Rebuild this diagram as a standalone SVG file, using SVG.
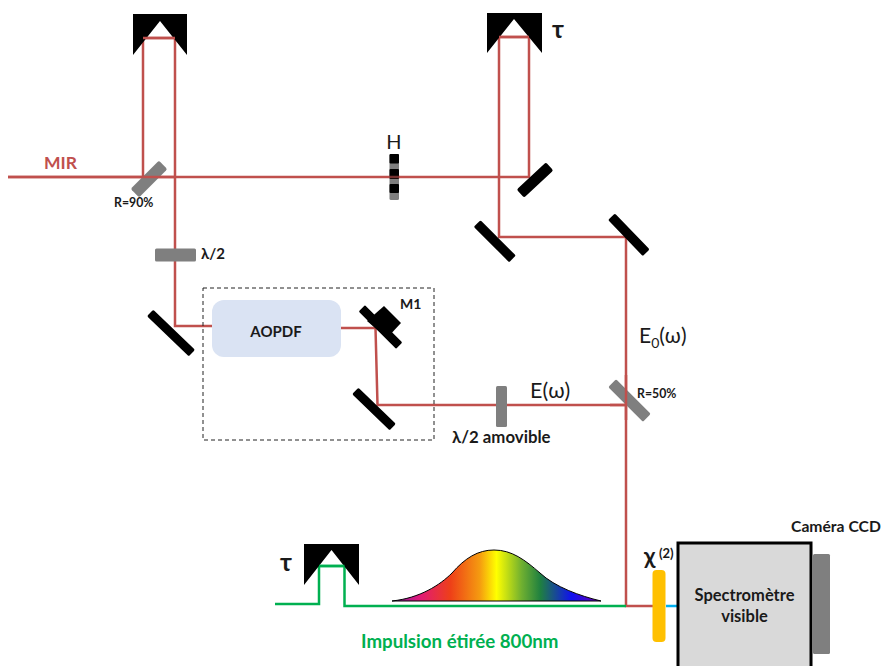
<svg xmlns="http://www.w3.org/2000/svg" width="883" height="666" viewBox="0 0 883 666">
<style>
text{font-family:"Lato","Open Sans","Liberation Sans",sans-serif;fill:#1a1a1a}
.b{font-weight:700}
.red{fill:none;stroke:#c0504d;stroke-width:2.5}
.grn{fill:none;stroke:#00b050;stroke-width:2.5}
.m{fill:#000}
.g{fill:#7f7f7f}
</style>
<defs>
<linearGradient id="sp" gradientUnits="userSpaceOnUse" x1="392" y1="0" x2="601" y2="0">
<stop offset="0" stop-color="#7a1fa0"/>
<stop offset="0.13" stop-color="#e0187a"/>
<stop offset="0.28" stop-color="#ee4018"/>
<stop offset="0.42" stop-color="#f59b10"/>
<stop offset="0.5" stop-color="#ffff00"/>
<stop offset="0.62" stop-color="#70b030"/>
<stop offset="0.71" stop-color="#1f8040"/>
<stop offset="0.86" stop-color="#1010f0"/>
<stop offset="1" stop-color="#7000b0"/>
</linearGradient>
</defs>
<g id="connectors">
<path class="red" d="M8 177H529V37H499V237"/>
<path class="red" d="M143 177V38H175V326H212"/>
<path class="red" d="M341 328H375.500L377.500 405H626"/>
<path class="red" d="M498 237H626V606H654"/>
<path class="grn" d="M275 604H319V566H344.500V606H626"/>
<path fill="none" stroke="#00b0f0" stroke-width="2.500" d="M666 606H678"/>
</g>
<g id="retro-left"><path class="m" d="M133 14H187V55L160 21L133 55Z"/></g>
<g id="retro-right"><path class="m" d="M487 13H542V53L514 19L487 53Z"/></g>
<g id="retro-bottom"><path class="m" d="M304 544H359V585L331.500 550L304 585Z"/></g>
<path class="red" d="M143 38H175M499 37H529"/>
<path class="grn" d="M319 566H344.500"/>
<g id="bs-90"><rect class="g" x="129" y="173" width="40" height="12" rx="2" transform="rotate(-45 149 179)"/></g>
<path class="red" d="M8 177H175"/>
<g id="lame-top"><rect class="g" x="155" y="248.500" width="41" height="13" rx="1.500"/></g>
<g id="mirror-left"><rect class="m" x="142" y="328.500" width="58" height="9" rx="1.500" transform="rotate(44 171 333)"/></g>
<g id="aopdf"><rect x="212" y="300" width="129" height="57" rx="12" fill="#dae3f3"/><text class="b" x="276" y="337" font-size="15" text-anchor="middle">AOPDF</text></g>
<g id="m1">
<rect class="m" x="354" y="322.500" width="53" height="9" rx="1.500" transform="rotate(45 380.500 327)"/>
<path class="m" d="M384 306L401 323L387 338L367 321Z"/>
<text class="b" x="400" y="309" font-size="14">M1</text>
</g>
<g id="mirror-m2"><rect class="m" x="348" y="404.500" width="52" height="9" rx="1.500" transform="rotate(44 374 409)"/></g>
<g id="box"><rect x="203" y="288" width="231" height="152" fill="none" stroke="#222" stroke-width="1" stroke-dasharray="4 3"/></g>
<g id="lame-h">
<rect class="g" x="389.500" y="154" width="9.500" height="46" rx="1.500"/>
<rect class="m" x="389.500" y="154" width="9.500" height="9.500" rx="1"/>
<rect class="m" x="389.500" y="169" width="9.500" height="10" rx="1"/>
<rect class="m" x="389.500" y="184" width="9.500" height="9" rx="1"/>
<path class="red" d="M389 177H400" stroke-opacity="0.6"/>
<text x="394" y="149" font-size="20" text-anchor="middle">H</text>
</g>
<g id="mirror-tr1"><rect class="m" x="515" y="174.500" width="40" height="11" rx="2" transform="rotate(-43 535 180)"/></g>
<g id="mirror-tr2"><rect class="m" x="470" y="236.500" width="50" height="9.500" rx="1.500" transform="rotate(45 495 241)"/></g>
<g id="mirror-tr3"><rect class="m" x="604" y="230" width="50" height="9.500" rx="1.500" transform="rotate(46 629 234.500)"/></g>
<g id="bs-50"><rect class="g" x="605" y="395" width="49" height="11" rx="1.500" transform="rotate(45 629.500 400.500)"/></g>
<path class="red" d="M626 375V420M610 405H626"/>
<g id="lame-amov"><rect class="g" x="496" y="386" width="11" height="41" rx="1.500"/></g>
<g id="crystal"><rect x="652.500" y="570" width="13" height="72" rx="4" fill="#ffc000"/></g>
<g id="spectro">
<rect x="678" y="543" width="133" height="126" fill="#d9d9d9" stroke="#000" stroke-width="3"/>
<text class="b" x="744.500" y="601" font-size="16.500" text-anchor="middle">Spectromètre</text>
<text class="b" x="744.500" y="622" font-size="16.500" text-anchor="middle">visible</text>
</g>
<g id="camera"><rect class="g" x="813" y="554" width="17" height="100" rx="1.500"/><text class="b" x="791" y="532" font-size="15.700">Caméra CCD</text></g>
<g id="spectrum"><path d="M392 601C420 598 440 585 452 573C465 558 478 550 494 550C512 550 525 560 540 573C555 587 580 596 601 601Z" fill="url(#sp)" stroke="#000" stroke-width="1"/></g>
<g id="labels">
<text class="b" x="44" y="169" font-size="17.500" style="fill:#c0504d">MIR</text>
<text class="b" x="114" y="207" font-size="12.300">R=90%</text>
<text class="b" x="201" y="259" font-size="15">λ/2</text>
<text class="b" x="552" y="38" font-size="25">τ</text>
<text class="b" x="280" y="571" font-size="25">τ</text>
<text x="530" y="398" font-size="21.500">E(ω)</text>
<text x="639" y="343" font-size="21">E<tspan font-size="14" dy="5">0</tspan><tspan dy="-5">(ω)</tspan></text>
<text class="b" x="637" y="398" font-size="12.300">R=50%</text>
<text class="b" x="452" y="443" font-size="16.800">λ/2 amovible</text>
<text class="b" x="644" y="564" font-size="23">χ</text>
<text class="b" x="659" y="558" font-size="13">(2)</text>
<text class="b" x="361" y="648" font-size="18.700" style="fill:#00b050">Impulsion étirée 800nm</text>
</g>
</svg>
